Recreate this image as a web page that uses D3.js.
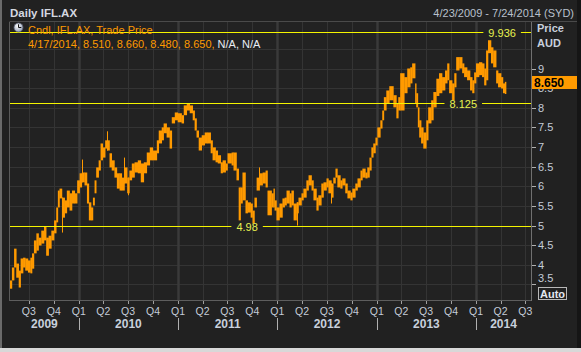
<!DOCTYPE html>
<html><head><meta charset="utf-8">
<script src="https://cdn.jsdelivr.net/npm/d3@7"></script>
<style>
html,body{margin:0;padding:0;background:#1c1c1c;overflow:hidden}
svg{display:block}
text{font-family:"Liberation Sans",Arial,sans-serif}
</style></head><body>
<svg id="c" width="581" height="352"></svg>
<script>
// ---- data ----
const dates = ["2009-04-23","2009-04-30","2009-05-08","2009-05-16","2009-05-25","2009-06-01","2009-06-10","2009-06-18","2009-06-28","2009-07-07",
"2009-07-13","2009-07-20","2009-07-29","2009-08-06","2009-08-16","2009-08-26","2009-09-03","2009-09-12","2009-09-22","2009-10-02",
"2009-10-10","2009-10-16","2009-10-22","2009-10-31","2009-11-10","2009-11-18","2009-11-28","2009-12-07","2009-12-17","2009-12-26",
"2010-01-04","2010-01-12","2010-01-22","2010-01-31","2010-02-07","2010-02-15","2010-02-22","2010-02-28","2010-03-06","2010-03-15",
"2010-03-22","2010-03-30","2010-04-08","2010-04-15","2010-04-24","2010-05-02","2010-05-12","2010-05-21","2010-05-31","2010-06-08",
"2010-06-18","2010-06-28","2010-07-06","2010-07-15","2010-07-25","2010-08-06","2010-08-17","2010-08-28","2010-09-08","2010-09-19",
"2010-09-30","2010-10-15","2010-10-22","2010-11-02","2010-11-09","2010-11-20","2010-12-01","2010-12-09","2010-12-20","2010-12-31",
"2011-01-14","2011-01-22","2011-02-02","2011-02-13","2011-02-24","2011-03-03","2011-03-10","2011-03-18","2011-03-29","2011-04-09",
"2011-04-20","2011-05-01","2011-05-08","2011-05-19","2011-05-27","2011-06-07","2011-06-14","2011-06-25","2011-07-02","2011-07-17",
"2011-07-24","2011-08-04","2011-08-12","2011-08-19","2011-08-26","2011-09-06","2011-09-14","2011-09-25","2011-10-02","2011-10-09",
"2011-10-17","2011-10-28","2011-11-08","2011-11-19","2011-11-26","2011-12-11","2011-12-18","2011-12-22","2011-12-29","2012-01-09",
"2012-01-20","2012-01-28","2012-02-04","2012-02-15","2012-02-22","2012-03-01","2012-03-12","2012-03-19","2012-03-30","2012-04-06",
"2012-04-17","2012-04-25","2012-05-06","2012-05-13","2012-05-24","2012-05-31","2012-06-11","2012-06-19","2012-06-30","2012-07-07",
"2012-07-18","2012-07-25","2012-08-02","2012-08-09","2012-08-20","2012-08-27","2012-09-07","2012-09-15","2012-09-26","2012-10-03",
"2012-10-14","2012-10-22","2012-11-02","2012-11-09","2012-11-20","2012-11-27","2012-12-05","2012-12-12","2012-12-19","2012-12-27",
"2013-01-03","2013-01-14","2013-01-21","2013-01-27","2013-02-05","2013-02-16","2013-03-03","2013-03-14","2013-03-21","2013-03-28",
"2013-04-12","2013-04-23","2013-05-04","2013-05-11","2013-05-22","2013-05-26","2013-06-01","2013-06-06","2013-06-13","2013-06-21",
"2013-07-02","2013-07-09","2013-07-20","2013-07-28","2013-08-08","2013-08-18","2013-08-29","2013-09-09","2013-09-17","2013-09-24",
"2013-10-05","2013-10-13","2013-10-20","2013-10-31","2013-11-11","2013-11-18","2013-11-29","2013-12-10","2013-12-18","2013-12-25",
"2014-01-01","2014-01-12","2014-01-23","2014-01-31","2014-02-07","2014-02-14","2014-02-25","2014-03-05","2014-03-16","2014-03-23",
"2014-04-03","2014-04-10","2014-04-17"];
const highs = [3.60,3.93,4.41,4.03,3.85,4.16,4.18,4.16,4.11,4.18,
4.29,4.62,4.80,4.69,4.87,4.97,4.69,4.74,4.87,5.13,
5.46,5.89,5.94,5.71,5.64,5.89,5.82,5.89,5.82,6.15,
6.33,6.35,6.35,6.07,5.59,5.46,5.71,6.15,6.48,6.66,
7.09,6.99,7.17,7.17,6.84,6.66,6.48,6.33,6.33,6.22,
6.48,6.22,6.40,6.58,6.61,6.66,6.58,6.61,6.86,6.99,
6.91,7.17,7.42,7.50,7.60,7.50,7.42,7.76,7.88,7.86,
7.81,8.06,8.11,8.06,7.93,7.73,7.42,7.24,7.30,7.37,
7.37,7.17,6.99,6.91,6.79,6.61,6.66,6.58,6.84,6.86,
6.86,6.45,5.97,5.97,6.35,5.64,5.59,5.56,5.38,5.71,
6.22,6.33,6.35,6.40,5.89,5.82,5.94,5.64,5.46,5.56,
5.69,5.71,5.89,5.82,5.89,5.56,5.59,5.71,5.82,5.94,
6.15,6.28,6.15,5.94,5.71,5.77,6.07,6.10,6.20,6.15,
6.07,6.22,6.45,6.28,6.15,6.20,6.07,5.89,5.84,5.94,
6.07,6.20,6.40,6.45,6.35,6.48,6.73,6.99,7.09,7.24,
7.50,7.68,7.93,8.27,8.44,8.55,8.32,8.11,8.27,8.88,
8.78,9.00,9.03,9.13,8.62,8.37,8.01,7.68,7.50,7.37,
7.68,8.01,8.19,8.40,8.74,8.88,8.78,8.95,9.13,8.70,
8.62,8.88,9.29,9.29,9.13,9.03,8.95,8.78,8.70,8.90,
9.13,9.16,9.13,9.00,9.46,9.72,9.54,9.46,8.95,8.88,
8.78,8.62,8.66];
const lows = [3.39,3.60,3.93,3.67,3.42,3.78,3.93,3.85,3.80,3.78,
3.90,4.29,4.36,4.49,4.54,4.62,4.23,4.41,4.62,4.80,
5.08,5.46,5.69,5.20,5.31,5.46,5.38,5.56,5.56,5.82,
5.97,6.10,6.02,5.56,5.13,5.13,5.51,5.82,6.22,6.40,
6.66,6.73,6.96,6.91,6.48,6.40,6.22,5.94,5.89,5.89,
6.07,5.82,6.15,6.22,6.35,6.33,6.10,6.33,6.53,6.66,
6.66,6.84,7.09,7.17,7.35,7.24,6.96,7.60,7.68,7.63,
7.60,7.81,7.93,7.86,7.68,7.42,7.24,6.91,7.04,7.09,
7.09,6.84,6.66,6.61,6.58,6.33,6.35,6.40,6.58,6.53,
6.40,6.15,5.13,5.56,5.64,5.31,5.33,5.20,5.05,5.46,
5.89,6.02,6.07,5.97,5.26,5.46,5.46,5.38,5.13,5.20,
5.46,5.51,5.56,5.46,5.51,5.13,5.31,5.51,5.64,5.71,
5.89,6.02,5.89,5.64,5.38,5.51,5.71,5.89,5.97,5.82,
5.71,6.07,6.22,5.97,5.94,6.02,5.82,5.69,5.64,5.71,
5.89,5.97,6.15,6.22,6.20,6.22,6.40,6.73,6.84,7.04,
7.24,7.47,7.68,7.93,8.11,8.19,8.01,7.73,7.93,7.93,
8.37,8.52,8.62,8.75,8.11,8.01,7.50,7.24,7.09,6.96,
7.17,7.60,7.68,8.01,8.30,8.37,8.44,8.62,8.70,8.37,
8.19,8.52,8.95,9.00,8.88,8.78,8.70,8.44,8.37,8.62,
8.78,8.83,8.78,8.57,8.70,9.39,9.13,9.03,8.62,8.52,
8.49,8.37,8.35];
// isolated wicks
const spikeDates = ["2009-10-31","2010-01-12","2010-04-14","2010-06-18","2010-06-30","2011-10-24","2012-03-12","2012-07-18"];
const spikeHighs = [5.71,6.68,7.40,6.73,6.22,6.48,5.59,6.07];
const spikeLows  = [4.82,6.10,6.91,6.07,5.77,6.02,5.00,5.56];

const yTicks = [3.5,4,4.5,5,5.5,6,6.5,7,7.5,8,8.5,9];
const yGrid = [3.5,4,4.5,5,5.5,6,6.5,7,7.5,8,8.5,9,9.5];
const quarterTicks = ["2009-07-01","2009-10-01","2010-01-01","2010-04-01","2010-07-01","2010-10-01","2011-01-01","2011-04-01","2011-07-01","2011-10-01",
"2012-01-01","2012-04-01","2012-07-01","2012-10-01","2013-01-01","2013-04-01","2013-07-01","2013-10-01","2014-01-01","2014-04-01","2014-07-01"];
const quarterLabels = ["Q3","Q4","Q1","Q2","Q3","Q4","Q1","Q2","Q3","Q4","Q1","Q2","Q3","Q4","Q1","Q2","Q3","Q4","Q1","Q2","Q3"];
const yearLabels = ["2009","2010","2011","2012","2013","2014"];
const levels = [9.936, 8.125, 4.98];
const levelLabels = ["9.936","8.125","4.98"];
const quoteValues = ["4/17/2014","8.510","8.660","8.480","8.650"];
const lastClose = 8.650;

// ---- drawing ----
const parse = d3.timeParse("%Y-%m-%d");
const svg = d3.select("#c");
const L = 10, R = 531, T = 22, B = 300;
const x = d3.scaleTime().domain([parse("2009-04-23"), parse("2014-07-24")]).range([10, 531.5]);
const y = d3.scaleLinear().domain([5, 9]).range([225.5, 68.5]);
const px = v => Math.round(v) + 0.5;
const orange = "#ff9a00";

// backgrounds
svg.append("rect").attr("width",581).attr("height",352).attr("fill","#151515");
svg.append("rect").attr("x",0).attr("y",0).attr("width",577).attr("height",348).attr("fill","#212121");
svg.append("rect").attr("x",0).attr("y",0).attr("width",2).attr("height",348).attr("fill","#6a6a6a");
svg.append("rect").attr("x",0).attr("y",348).attr("width",581).attr("height",4).attr("fill","#d8d8d8");
svg.append("rect").attr("x",L).attr("y",T).attr("width",R-L).attr("height",B-T).attr("fill","#222222");

// grid
const grid = svg.append("g");
grid.selectAll("line.h").data(yGrid).join("line")
  .attr("x1",L).attr("x2",R).attr("y1",d=>px(y(d))).attr("y2",d=>px(y(d)))
  .attr("stroke","#343434").attr("stroke-width",1);
grid.selectAll("line.v").data(quarterTicks).join("line")
  .attr("x1",d=>px(x(parse(d)))).attr("x2",d=>px(x(parse(d)))).attr("y1",T).attr("y2",B)
  .attr("stroke",(d,i)=>quarterLabels[i]==="Q1"?"#3a3a3a":"#343434")
  .attr("stroke-width",(d,i)=>quarterLabels[i]==="Q1"?2.5:1);

// frame
svg.append("line").attr("x1",L-0.5).attr("x2",577).attr("y1",T-0.5).attr("y2",T-0.5).attr("stroke","#4a4a4a");
svg.append("line").attr("x1",L-0.5).attr("x2",L-0.5).attr("y1",T).attr("y2",B+1).attr("stroke","#5a5a5a");
svg.append("line").attr("x1",L).attr("x2",R).attr("y1",B+0.5).attr("y2",B+0.5).attr("stroke","#5e5e5e");
svg.append("line").attr("x1",R+0.5).attr("x2",R+0.5).attr("y1",T).attr("y2",B+1).attr("stroke","#707070");

// candles
svg.append("clipPath").attr("id","clip").append("rect").attr("x",L).attr("y",T).attr("width",R-L).attr("height",B-T);
const cg = svg.append("g").attr("clip-path","url(#clip)");
const pts = dates.map((d,i)=>({d:parse(d), h:highs[i], l:lows[i]}));
cg.selectAll("rect.c").data(pts).join("rect")
  .attr("x",d=>x(d.d))
  .attr("width",(d,i)=> i<pts.length-1 ? Math.max(1.2, x(pts[i+1].d)-x(d.d)+0.3) : 1.5)
  .attr("y",d=>y(d.h))
  .attr("height",d=>Math.max(1, y(d.l)-y(d.h)))
  .attr("fill",orange);
cg.selectAll("line.s").data(spikeDates).join("line")
  .attr("x1",d=>px(x(parse(d)))).attr("x2",d=>px(x(parse(d))))
  .attr("y1",(d,i)=>y(spikeHighs[i])).attr("y2",(d,i)=>y(spikeLows[i]))
  .attr("stroke",orange).attr("stroke-width",1);

// level lines with labels
const levelLabelDates = ["2014-04-07","2013-11-15","2011-09-12"];
const lv = svg.append("g");
levels.forEach((v,i)=>{
  const yy = px(y(v));
  lv.append("line").attr("x1",L).attr("x2",R).attr("y1",yy).attr("y2",yy).attr("stroke","#f4f400").attr("stroke-width",1);
  const cx = x(parse(levelLabelDates[i]));
  const t = lv.append("text").attr("x",cx).attr("y",yy+4).attr("text-anchor","middle")
    .attr("font-size","11px").attr("fill","#e8f250").text(levelLabels[i]);
  const w = t.node().getComputedTextLength();
  lv.insert("rect","text:last-of-type").attr("x",cx-w/2-5).attr("y",yy-2).attr("width",w+10).attr("height",4).attr("fill","#222222");
  t.raise();
});

// right axis
const ax = svg.append("g");
ax.selectAll("line").data(yTicks).join("line")
  .attr("x1",R+1).attr("x2",R+5).attr("y1",d=>px(y(d))).attr("y2",d=>px(y(d))).attr("stroke","#b0b0b0");
ax.selectAll("text").data(yTicks).join("text")
  .attr("x",R+7).attr("y",d=>Math.min(y(d)+4, 282)).attr("font-size","11px").attr("fill","#c4ccd8")
  .text(d=>d3.format("")(d));
svg.append("text").attr("x",537).attr("y",32).attr("font-size","11px").attr("font-weight","bold").attr("fill","#c8d0dc").text("Price");
svg.append("text").attr("x",537).attr("y",47).attr("font-size","11px").attr("font-weight","bold").attr("fill","#c8d0dc").text("AUD");

// last price marker
const yl = y(lastClose);
svg.append("rect").attr("x",532).attr("y",Math.round(yl)-6).attr("width",45).attr("height",13).attr("fill",orange);
svg.append("text").attr("x",534).attr("y",Math.round(yl)+4.5).attr("font-size","12px").attr("font-weight","bold").attr("fill","#000").text(d3.format(".3f")(lastClose));

// Auto button
svg.append("rect").attr("x",538.5).attr("y",287.5).attr("width",28).attr("height",12).attr("fill","none").attr("stroke","#b8b8b8");
svg.append("text").attr("x",552.5).attr("y",297.5).attr("text-anchor","middle").attr("font-size","11px").attr("font-weight","bold").attr("fill","#e4e8f0").text("Auto");

// x axis
const xa = svg.append("g");
xa.selectAll("line.t").data(quarterTicks).join("line")
  .attr("x1",d=>px(x(parse(d)))).attr("x2",d=>px(x(parse(d)))).attr("y1",301).attr("y2",304).attr("stroke","#a0a0a0");
xa.selectAll("text.q").data(quarterTicks).join("text")
  .attr("x",d=>x(parse(d))).attr("y",315).attr("text-anchor","middle").attr("font-size","10.5px").attr("fill","#c4ccd8")
  .text((d,i)=>quarterLabels[i]);
const yearStarts = quarterTicks.filter((d,i)=>quarterLabels[i]==="Q1");
xa.selectAll("line.sep").data(yearStarts).join("line")
  .attr("x1",d=>px(x(parse(d)))).attr("x2",d=>px(x(parse(d)))).attr("y1",318).attr("y2",330).attr("stroke","#b0b0b0");
const bounds = [L, ...yearStarts.map(d=>x(parse(d))), R];
xa.selectAll("text.y").data(yearLabels).join("text")
  .attr("x",(d,i)=>(bounds[i]+bounds[i+1])/2).attr("y",328).attr("text-anchor","middle")
  .attr("font-size","12px").attr("font-weight","bold").attr("fill","#c8d0dc").text(d=>d);

// header
svg.append("text").attr("x",10).attr("y",17).attr("font-size","11.5px").attr("font-weight","bold").attr("fill","#d4d8e0").text("Daily IFL.AX");
svg.append("text").attr("x",574).attr("y",17).attr("text-anchor","end").attr("font-size","11px").attr("fill","#b8c0cc").text("4/23/2009 - 7/24/2014 (SYD)");

// legend
const defs = svg.append("defs");
const rg = defs.append("radialGradient").attr("id","clk").attr("cx","40%").attr("cy","35%").attr("r","70%");
rg.append("stop").attr("offset","0%").attr("stop-color","#ffffff");
rg.append("stop").attr("offset","100%").attr("stop-color","#8a98b0");
svg.append("circle").attr("cx",18.5).attr("cy",27.5).attr("r",4.5).attr("fill","url(#clk)").attr("stroke","#5a6070").attr("stroke-width",0.8);
svg.append("line").attr("x1",18.5).attr("y1",27.5).attr("x2",18.5).attr("y2",24.3).attr("stroke","#111").attr("stroke-width",1);
svg.append("line").attr("x1",18.5).attr("y1",27.5).attr("x2",21.3).attr("y2",27.5).attr("stroke","#111").attr("stroke-width",1);
svg.append("text").attr("x",28).attr("y",34).attr("font-size","11px").attr("fill",orange).text("Cndl, IFL.AX, Trade Price");
const lt = svg.append("text").attr("x",28).attr("y",48).attr("font-size","11px");
lt.append("tspan").attr("fill",orange).text(quoteValues.join(", ") + ", ");
lt.append("tspan").attr("fill","#e8ecf4").text("N/A, N/A");
</script>
</body></html>
